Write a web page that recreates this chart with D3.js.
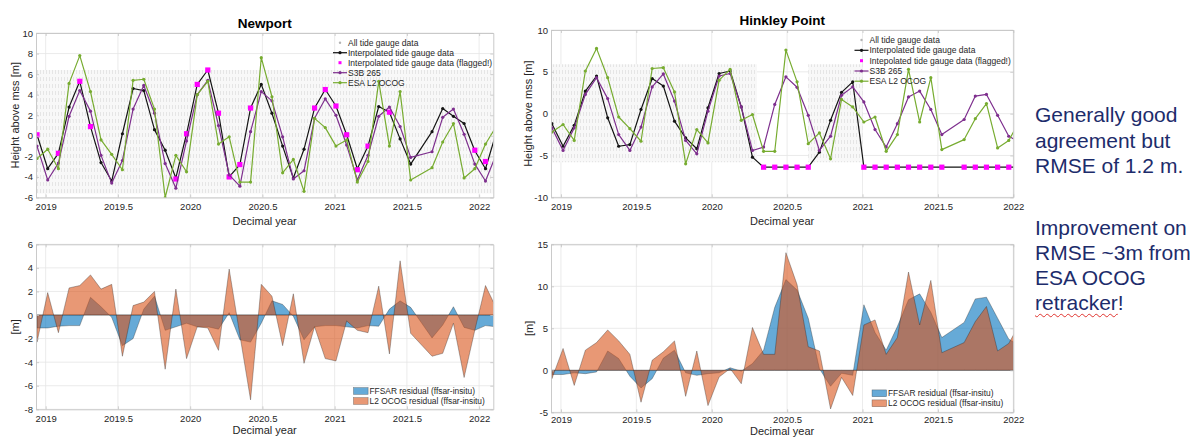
<!DOCTYPE html>
<html>
<head>
<meta charset="utf-8">
<script src="https://cdn.jsdelivr.net/npm/d3@7"></script>
<style>
  body { margin: 0; background: #fff; }
  #wrap { position: relative; width: 1195px; height: 437px; overflow: hidden; background: #fff; }
  #wrap svg { position: absolute; left: 0; top: 0; font-family: "Liberation Sans", Arial, Helvetica, sans-serif; }
  .note { position: absolute; left: 1035px; font-family: "Liberation Sans", Arial, sans-serif;
          font-size: 21px; line-height: 21px; color: #1d2c6b; white-space: nowrap; }
  .squiggle { text-decoration: underline wavy #e0332e; text-decoration-thickness: 1px; text-underline-offset: 3px; }
</style>
</head>
<body>
<div id="wrap"></div>
<script>
// Sentinel-3B track 265 overpass epochs (decimal year)
const passYears = [
  2018.940, 2019.014, 2019.088, 2019.162, 2019.236, 2019.310, 2019.383, 2019.457, 2019.531, 2019.605,
  2019.679, 2019.753, 2019.827, 2019.901, 2019.975, 2020.049, 2020.122, 2020.196, 2020.270, 2020.344,
  2020.418, 2020.492, 2020.566, 2020.640, 2020.714, 2020.788, 2020.861, 2020.935, 2021.009, 2021.083,
  2021.157, 2021.231, 2021.305, 2021.379, 2021.453, 2021.526, 2021.600, 2021.674, 2021.748, 2021.822,
  2021.896, 2021.970, 2022.044, 2022.118
];

// ---- Newport ----
const newportGauge = [
  0.1, -3.2, -1.7, 2.8, 5.3, 0.9, -2.6, -4.4, 0.2, 4.6,
  4.4, 0.6, -1.4, -4.1, 0.2, 5.0, 6.4, 2.2, -4.0, -2.8,
  2.7, 5.0, 2.2, -1.0, -4.1, -1.3, 2.7, 4.5, 2.9, 0.1,
  -3.2, -1.0, 2.85, 2.3, -0.3, -2.75, null, 0.4, 2.65, 1.9,
  1.2, -1.45, -3.2, 0.3
];
const newportFlagged = [
  0.1, null, -1.7, null, 5.3, 0.9, null, null, null, null,
  null, null, null, -4.2, 0.2, 5.0, 6.4, 2.2, -4.0, -2.8,
  2.7, null, null, null, null, null, 2.7, 4.5, 2.9, 0.1,
  -3.3, -1.0, null, 2.3, null, null, null, null, null, null,
  null, -1.4, -2.5, null
];
const newportS3B = [
  -1.0, -4.3, -2.65, 1.9, 4.4, 2.4, -1.9, -4.6, -2.4, 2.6,
  4.9, 2.2, -2.7, -5.1, -0.5, 4.0, 5.4, 1.0, -3.8, -4.9,
  0.4, 4.3, 3.4, -0.1, -4.2, -3.4, 1.7, 3.6, 2.0, -0.9,
  -4.3, -1.9, 1.9, 2.8, 0.9, -2.1, null, -1.55, 1.8, 2.6,
  0.15, -2.75, -4.4, -1.8
];
const newportFfsarResidual = [
  -1.1, -1.1, -0.95, -0.9, -0.9, 1.5, 0.7, -0.2, -2.6, -2.0,
  0.5, 1.6, -1.3, -1.0, -0.7, -1.0, -1.0, -1.2, 0.2, -2.1,
  -2.3, -0.7, 1.2, 0.9, -0.1, -2.1, -1.0, -0.9, -0.9, -1.0,
  -1.1, -0.9, -0.95, 0.5, 1.2, 0.65, null, -1.95, -0.85, 0.7,
  -1.05, -1.3, -0.9, -1.0
];
const newportOcogResidual = [
  -2.3, 1.9, -1.5, 2.3, 2.5, 3.4, 2.2, 2.6, -3.5, 0.8,
  1.1, 2.0, -4.6, 2.2, -3.7, -1.0, -1.1, -3.0, 3.9, -1.7,
  -7.2, 2.6, 1.6, -2.6, 1.8, -4.1, -1.0, -3.7, -3.9, -0.5,
  -1.3, -1.5, 2.45, -3.3, 4.6, -1.55, null, -3.5, -3.25, -0.7,
  -5.3, -1.3, 2.5, 0.6
];
// envelope of the raw tide gauge record
const newportTideTimes = [2018.933, 2022.098];
const newportTideHigh = [6.4, 6.4];
const newportTideLow = [-5.6, -5.6];

// ---- ESA L2 OCOG heights (shared by both sites) ----
const ocogHeight = [
  -2.2, -1.3, -3.2, 5.1, 7.8, 4.3, -0.4, -1.8, -3.3, 5.4,
  5.5, 2.6, -6.0, -1.9, -3.5, 4.0, 5.3, -0.8, -0.1, -4.5,
  -4.5, 7.6, 3.8, -3.6, -2.3, -5.4, 1.7, 0.8, -1.0, -0.4,
  -4.5, -2.5, 5.3, -1.0, 4.3, -4.3, null, -3.1, -0.6, 1.2,
  -4.1, -3.2, -0.8, 0.9
];

// ---- Hinkley Point ----
const hinkleyGauge = [
  -1.2, -3.9, -1.4, 2.7, 4.5, -0.5, -3.9, -3.7, 0.5, 4.2,
  3.3, -0.9, -2.9, -4.2, 0.7, 4.8, 5.1, 0.8, -5.2, -6.4,
  -6.4, -6.4, -6.4, -6.4, -4.6, -0.8, 2.55, 3.8, -6.4, -6.4,
  -6.4, -6.4, -6.4, -6.4, -6.4, -6.4, null, -6.4, -6.4, -6.4,
  -6.4, -6.4, -6.4, -6.4
];
const hinkleyFlagged = [
  null, null, null, null, null, null, null, null, null, null,
  null, null, null, null, null, null, null, null, null, -6.4,
  -6.4, -6.4, -6.4, -6.4, null, null, null, null, -6.4, -6.4,
  -6.4, -6.4, -6.4, -6.4, -6.4, -6.4, null, -6.4, -6.4, -6.4,
  -6.4, -6.4, null, null
];
const hinkleyS3B = [
  -1.7, -4.4, -1.7, 2.3, 4.3, 1.8, -2.5, -4.4, -1.6, 3.2,
  4.75, 1.5, -3.2, -4.8, 0.3, 4.5, 4.8, 0.8, -4.4, -4.0,
  1.1, 4.4, 3.15, -0.2, -4.4, -2.7, 2.2, 3.2, 1.4, -1.9,
  -4.0, -1.2, 2.0, 2.7, 0.5, -2.5, null, -0.7, 2.1, 2.3,
  -0.2, -2.7, -3.45, null
];
const hinkleyFfsarResidual = [
  -0.5, -0.5, -0.3, -0.4, -0.2, 2.3, 1.4, -0.7, -2.1, -1.0,
  1.45, 2.4, -0.3, -0.6, -0.4, -0.3, 0.3, -0.1, 0.8, 2.4,
  7.5, 10.8, 9.55, 6.2, 0.2, -1.9, -0.35, -0.6, 7.8, 4.5,
  2.4, 5.2, 8.4, 9.1, 6.9, 3.9, null, 5.7, 8.5, 8.7,
  6.2, 3.7, 2.95, null
];
const hinkleyOcogResidual = [
  -1.0, 2.6, -1.8, 2.4, 3.3, 4.8, 3.5, 1.9, -3.8, 1.2,
  2.2, 3.5, -3.1, 2.3, -4.2, -0.8, 0.2, -1.6, 5.1, 1.9,
  1.9, 14.0, 10.2, 2.8, 2.3, -4.6, -0.85, -3.0, 5.4, 6.0,
  1.9, 3.9, 11.7, 5.4, 10.7, 2.1, null, 3.3, 5.8, 7.6,
  2.3, 3.2, 5.6, null
];
// the raw record at Hinkley Point has gaps: two stretches of data
const hinkleyTideStart = [2018.934, 2020.64];
const hinkleyTideEnd = [2020.30, 2021.00];
const hinkleyTideHigh = [5.9, 5.9];
const hinkleyTideLow = [-5.8, -5.8];

// ---- axis ticks ----
const yearTicks = [2019, 2019.5, 2020, 2020.5, 2021, 2021.5, 2022];
const newportHeightTicks = [-6, -4, -2, 0, 2, 4, 6, 8, 10];
const newportResidualTicks = [-8, -6, -4, -2, 0, 2, 4, 6];
const hinkleyHeightTicks = [-10, -5, 0, 5, 10];
const hinkleyResidualTicks = [-5, 0, 5, 10, 15];

const legendTop = ["All tide gauge data", "Interpolated tide gauge data",
  "Interpolated tide gauge data (flagged!)", "S3B 265", "ESA L2 OCOG"];
const legendTopHinkley = ["All tide gauge data", "Interpolated tide gauge data",
  "Intepolated tide gauge data (flagged!)", "S3B 265", "ESA L2 OCOG"];
const legendResidual = ["FFSAR residual (ffsar-insitu)", "L2 OCOG residual (ffsar-insitu)"];

const noteLines = ["Generally good", "agreement but", "RMSE of 1.2 m.",
  "Improvement on", "RMSE ~3m from", "ESA OCOG", "retracker!"];

// ---- styles ----
const C = {
  gauge: "#141414", flagged: "#ff00ff", s3b: "#7e2f8e", ocog: "#77ac30",
  tide: "#b4b4b4", ffsar: "rgba(0,114,189,0.6)", l2: "rgba(217,83,25,0.6)",
  axis: "#c4c4c4", grid: "#e6e6e6", text: "#262626"
};

const wrap = d3.select("#wrap");
const svg = wrap.append("svg").attr("width", 1195).attr("height", 437);
const defs = svg.append("defs");
const hatch = defs.append("pattern").attr("id", "tideHatch")
  .attr("patternUnits", "userSpaceOnUse").attr("width", 3).attr("height", 7);
hatch.append("rect").attr("width", 3).attr("height", 7).attr("fill", "#f8f8f8");
hatch.append("rect").attr("x", 1).attr("width", 0.8).attr("height", 4).attr("fill", "#e1e1e1");

const series = arr => passYears.map((t, i) => ({ t, v: arr[i] })).filter(d => d.v != null);

function makeAxes(cfg) {
  const x = d3.scaleLinear().domain(cfg.xDomain).range([cfg.x0, cfg.x1]);
  const y = d3.scaleLinear().domain(cfg.yDomain).range([cfg.y1, cfg.y0]);
  const g = svg.append("g");
  defs.append("clipPath").attr("id", "clip-" + cfg.id).append("rect")
    .attr("x", cfg.x0).attr("y", cfg.y0).attr("width", cfg.x1 - cfg.x0).attr("height", cfg.y1 - cfg.y0);

  // grid
  const grid = g.append("g").attr("stroke", C.grid).attr("stroke-width", 0.8);
  grid.selectAll(".gx").data(yearTicks).join("line")
    .attr("x1", d => x(d)).attr("x2", d => x(d)).attr("y1", cfg.y0).attr("y2", cfg.y1);
  grid.selectAll(".gy").data(cfg.yTicks).join("line")
    .attr("x1", cfg.x0).attr("x2", cfg.x1).attr("y1", d => y(d)).attr("y2", d => y(d));

  const plot = g.append("g").attr("clip-path", `url(#clip-${cfg.id})`);
  return { x, y, g, plot };
}

function finishAxes(ax, cfg) {
  const { x, y, g } = ax;
  const fmt = d => String(d);
  const bottom = g.append("g").attr("transform", `translate(0,${cfg.y1})`)
    .call(d3.axisBottom(x).tickValues(yearTicks).tickFormat(fmt).tickSize(-3).tickSizeOuter(0)
      .tickPadding(cfg.xPad ?? 6));
  const left = g.append("g").attr("transform", `translate(${cfg.x0},0)`)
    .call(d3.axisLeft(y).tickValues(cfg.yTicks).tickFormat(fmt).tickSize(-3).tickSizeOuter(0).tickPadding(3));
  const top = g.append("g").attr("transform", `translate(0,${cfg.y0})`)
    .call(d3.axisTop(x).tickValues(yearTicks).tickFormat("").tickSize(-3).tickSizeOuter(0));
  const right = g.append("g").attr("transform", `translate(${cfg.x1},0)`)
    .call(d3.axisRight(y).tickValues(cfg.yTicks).tickFormat("").tickSize(-3).tickSizeOuter(0));
  [bottom, left, top, right].forEach(a => {
    a.select(".domain").attr("stroke", C.axis).attr("stroke-width", 0.9);
    a.selectAll(".tick line").attr("stroke", C.axis).attr("stroke-width", 0.8);
    a.selectAll("text").attr("fill", C.text).attr("font-size", 9.5)
      .attr("font-family", '"Liberation Sans", Arial, sans-serif');
  });
  const cx = (cfg.x0 + cfg.x1) / 2;
  g.append("text").attr("x", cx).attr("y", cfg.xlabelY).attr("text-anchor", "middle")
    .attr("font-size", 11).attr("fill", C.text).text("Decimal year");
  g.append("text").attr("transform", `translate(${cfg.ylabelX},${(cfg.y0 + cfg.y1) / 2}) rotate(-90)`)
    .attr("text-anchor", "middle").attr("dy", "0.35em").attr("font-size", 11).attr("fill", C.text)
    .text(cfg.ylabel);
  if (cfg.title) {
    g.append("text").attr("x", cx).attr("y", cfg.titleY).attr("text-anchor", "middle")
      .attr("font-size", 13.5).attr("font-weight", "bold").attr("fill", "#000").text(cfg.title);
  }
}

function lineWithDots(plot, ax, data, color, width) {
  const line = d3.line().x(d => ax.x(d.t)).y(d => ax.y(d.v));
  plot.append("path").datum(data).attr("d", line).attr("fill", "none")
    .attr("stroke", color).attr("stroke-width", width).attr("stroke-linejoin", "round");
  plot.append("g").selectAll("circle").data(data).join("circle")
    .attr("cx", d => ax.x(d.t)).attr("cy", d => ax.y(d.v)).attr("r", 1.6).attr("fill", color);
}

function heightPanel(cfg, gauge, flagged, s3b, tide, legendLabels) {
  const ax = makeAxes(cfg);
  const { plot } = ax;
  // raw tide gauge record
  const band = d3.area().x(d => ax.x(d.t)).y0(d => ax.y(d.lo)).y1(d => ax.y(d.hi));
  tide.forEach(seg => {
    plot.append("path").datum(seg).attr("d", band).attr("fill", "url(#tideHatch)");
  });
  lineWithDots(plot, ax, series(gauge), C.gauge, 1.2);
  plot.append("g").selectAll("rect").data(series(flagged)).join("rect")
    .attr("x", d => ax.x(d.t) - 2.6).attr("y", d => ax.y(d.v) - 2.6)
    .attr("width", 5.2).attr("height", 5.2).attr("fill", C.flagged);
  lineWithDots(plot, ax, series(s3b), C.s3b, 1.2);
  lineWithDots(plot, ax, series(ocogHeight), C.ocog, 1.2);
  finishAxes(ax, cfg);

  // legend (transparent, no frame)
  const lg = svg.append("g");
  const kinds = ["tide", "gauge", "flagged", "s3b", "ocog"];
  legendLabels.forEach((label, i) => {
    const yy = cfg.legendRows[i];
    const k = kinds[i];
    const xs = cfg.legendX - 15, xm = cfg.legendX - 8;
    if (k === "tide") {
      lg.append("circle").attr("cx", xm).attr("cy", yy).attr("r", 1.2).attr("fill", C.tide);
    } else if (k === "flagged") {
      lg.append("rect").attr("x", xm - 1.5).attr("y", yy - 1.5).attr("width", 3).attr("height", 3).attr("fill", C.flagged);
    } else {
      lg.append("line").attr("x1", xs).attr("x2", cfg.legendX - 1).attr("y1", yy).attr("y2", yy)
        .attr("stroke", C[k]).attr("stroke-width", 1.2);
      lg.append("circle").attr("cx", xm).attr("cy", yy).attr("r", 1.6).attr("fill", C[k]);
    }
    lg.append("text").attr("x", cfg.legendX).attr("y", yy).attr("dy", "0.35em")
      .attr("font-size", 8.5).attr("fill", C.text).text(label);
  });
}

function residualPanel(cfg, ffsar, l2) {
  const ax = makeAxes(cfg);
  const area = d3.area().x(d => ax.x(d.t)).y0(ax.y(0)).y1(d => ax.y(d.v));
  ax.plot.append("path").datum(series(ffsar)).attr("d", area).attr("fill", C.ffsar)
    .attr("stroke", "rgba(30,30,30,0.55)").attr("stroke-width", 0.6);
  ax.plot.append("path").datum(series(l2)).attr("d", area).attr("fill", C.l2)
    .attr("stroke", "rgba(30,30,30,0.55)").attr("stroke-width", 0.6);
  finishAxes(ax, cfg);

  const lg = svg.append("g");
  [C.ffsar, C.l2].forEach((col, i) => {
    const yy = cfg.legendRows[i];
    lg.append("rect").attr("x", cfg.legendX - 16).attr("y", yy - 3.4).attr("width", 14.6).attr("height", 6.8)
      .attr("fill", col).attr("stroke", "rgba(30,30,30,0.55)").attr("stroke-width", 0.5);
    lg.append("text").attr("x", cfg.legendX).attr("y", yy).attr("dy", "0.35em")
      .attr("font-size", 8.4).attr("fill", C.text).text(legendResidual[i]);
  });
}

// ---- Newport ----
const newportTide = [newportTideTimes.map((t, i) => ({ t, hi: newportTideHigh[i], lo: newportTideLow[i] }))];
heightPanel({
  id: "nt", x0: 36, x1: 493.3, y0: 33, y1: 197.5, xDomain: [2018.933, 2022.098], yDomain: [-6, 10],
  yTicks: newportHeightTicks, title: "Newport", titleY: 28, xlabelY: 225, ylabelX: 15,
  ylabel: "Height above mss [m]", legendX: 348, legendRows: [42.7, 52.7, 62.7, 72.7, 82.7]
}, newportGauge, newportFlagged, newportS3B, newportTide, legendTop);

residualPanel({
  id: "nb", x0: 36, x1: 493.3, y0: 244.3, y1: 409.3, xDomain: [2018.933, 2022.098], yDomain: [-8, 6],
  yTicks: newportResidualTicks, xlabelY: 434, ylabelX: 15, ylabel: "[m]",
  legendX: 369.5, legendRows: [391, 401]
}, newportFfsarResidual, newportOcogResidual);

// ---- Hinkley Point ----
const hinkleyTide = hinkleyTideStart.map((s, i) => [
  { t: s, hi: hinkleyTideHigh[i], lo: hinkleyTideLow[i] },
  { t: hinkleyTideEnd[i], hi: hinkleyTideHigh[i], lo: hinkleyTideLow[i] }
]);
heightPanel({
  id: "ht", x0: 551, x1: 1013.3, y0: 30, y1: 197.3, xDomain: [2018.934, 2022.0], yDomain: [-10, 10],
  yTicks: hinkleyHeightTicks, title: "Hinkley Point", titleY: 25, xlabelY: 225, ylabelX: 528,
  ylabel: "Height above mss [m]", legendX: 869.5, legendRows: [40, 50.3, 60.7, 71, 81.2]
}, hinkleyGauge, hinkleyFlagged, hinkleyS3B, hinkleyTide, legendTopHinkley);

residualPanel({
  id: "hb", x0: 551, x1: 1013.3, y0: 244.3, y1: 412.3, xDomain: [2018.934, 2022.0], yDomain: [-5, 15],
  yTicks: hinkleyResidualTicks, xPad: 4, xlabelY: 435.2, ylabelX: 529, ylabel: "[m]",
  legendX: 888, legendRows: [393.3, 403.3]
}, hinkleyFfsarResidual, hinkleyOcogResidual);

// ---- side notes ----
const noteBaselines = [122, 147.3, 172.6, 235, 260, 285, 310];
noteLines.forEach((txt, i) => {
  const div = wrap.append("div").attr("class", "note").style("top", (noteBaselines[i] - 17.8) + "px");
  if (txt === "retracker!") {
    div.append("span").attr("class", "squiggle").text("retracker");
    div.append("span").text("!");
  } else {
    div.text(txt);
  }
});
</script>
</body>
</html>
